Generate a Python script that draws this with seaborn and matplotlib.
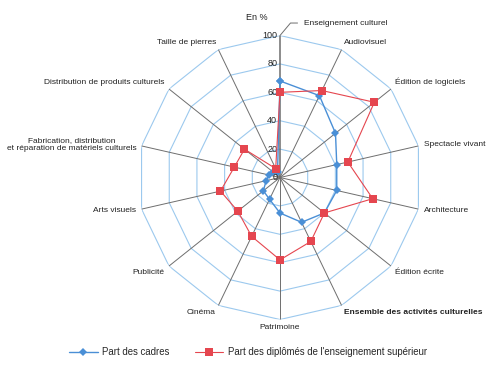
import numpy as np
import pandas as pd
import seaborn as sns
import matplotlib.pyplot as plt
from matplotlib.lines import Line2D

# donnees (en %)
categories = [
    "Enseignement culturel", "Audiovisuel", "Édition de logiciels",
    "Spectacle vivant", "Architecture", "Édition écrite",
    "Ensemble des activités culturelles", "Patrimoine", "Cinéma",
    "Publicité", "Arts visuels",
    "Fabrication, distribution\net réparation de matériels culturels",
    "Distribution de produits culturels", "Taille de pierres",
]
part_cadres = [68, 64, 50, 41, 41, 40, 35, 25, 17, 15, 10, 8, 6, 4]
part_diplomes = [60, 68, 85, 49, 67, 40, 50, 58, 46, 38, 43, 33, 32, 7]
niveaux = [0, 20, 40, 60, 80, 100]

BLEU = "#4a8fd6"
ROUGE = "#e5464f"
GRILLE = "#9cc9ee"
RAYON = "#6e6e6e"

sns.set_style("white")
plt.rcParams["font.family"] = ["Liberation Sans", "DejaVu Sans"]

n = len(categories)
angles = np.linspace(0, 2 * np.pi, n, endpoint=False)
angles_fermes = np.append(angles, 2 * np.pi)

df = pd.DataFrame({
    "angle": np.concatenate([angles_fermes, angles_fermes]),
    "valeur": part_cadres + part_cadres[:1] + part_diplomes + part_diplomes[:1],
    "serie": ["cadres"] * (n + 1) + ["diplomes"] * (n + 1),
})

fig = plt.figure(figsize=(4.96, 3.67), dpi=100)
ax = fig.add_axes([0.2782, 0.1294, 0.5726, 0.7738], projection="polar")
ax.set_theta_zero_location("N")
ax.set_theta_direction(-1)
ax.set_ylim(0, 100)
ax.grid(False)
ax.set_xticks([])
ax.set_yticks([])
ax.spines["polar"].set_visible(False)

# grille polygonale
for niv in niveaux[1:]:
    ax.plot(angles_fermes, [niv] * (n + 1), color=GRILLE, lw=0.8, zorder=1)
for i, a in enumerate(angles):
    ax.plot([a, a], [0, 100], color=RAYON, lw=1.1 if i == 0 else 0.7, zorder=2)

# series
sns.lineplot(data=df[df.serie == "cadres"], x="angle", y="valeur", ax=ax,
             sort=False, estimator=None, color=BLEU, lw=1.0, marker="D",
             markersize=4, markeredgewidth=0, legend=False, zorder=3)
sns.lineplot(data=df[df.serie == "diplomes"], x="angle", y="valeur", ax=ax,
             sort=False, estimator=None, color=ROUGE, lw=0.8, marker="s",
             markersize=6, markeredgewidth=0, legend=False, zorder=4)
ax.set_xlabel("")
ax.set_ylabel("")

# graduations
for niv in niveaux:
    ax.annotate(str(niv), xy=(0, niv), xytext=(-2, 0), textcoords="offset points",
                ha="right", va="center", fontsize=6.5, color="#222222")

# etiquettes des categories
for i, (a, lab) in enumerate(zip(angles, categories)):
    if i == 0:
        ax.annotate(lab, xy=(0, 100), xytext=(17, 9), textcoords="offset points",
                    ha="left", va="center", fontsize=6, color="#222222",
                    arrowprops=dict(arrowstyle="-", color=RAYON, lw=0.7,
                                    shrinkA=2, shrinkB=0, relpos=(0, 0.5),
                                    connectionstyle="angle,angleA=0,angleB=50,rad=0"))
        continue
    s, c = np.sin(a), np.cos(a)
    ha = "left" if s > 0.1 else ("right" if s < -0.1 else "center")
    va = "bottom" if c > 0.5 else ("top" if c < -0.5 else "center")
    poids = "bold" if lab.startswith("Ensemble") else "normal"
    ax.annotate(lab, xy=(a, 100), xytext=(4 * s, 3 * c), textcoords="offset points",
                ha=ha, va=va, fontsize=6, color="#222222", fontweight=poids,
                multialignment="center")

fig.text(257 / 496, 1 - 17 / 367, "En %", ha="center", va="center",
         fontsize=6.5, color="#222222")

poignees = [
    Line2D([], [], color=BLEU, lw=1.0, marker="D", markersize=4, markeredgewidth=0),
    Line2D([], [], color=ROUGE, lw=0.8, marker="s", markersize=6, markeredgewidth=0),
]
fig.legend(poignees, ["Part des cadres", "Part des diplômés de l'enseignement supérieur"],
           loc="center", bbox_to_anchor=(0.5, 1 - 352 / 367), ncol=2, frameon=False,
           fontsize=6.9, handlelength=3, columnspacing=2.6, handletextpad=0.5)

fig.savefig("out.png", dpi=100)
